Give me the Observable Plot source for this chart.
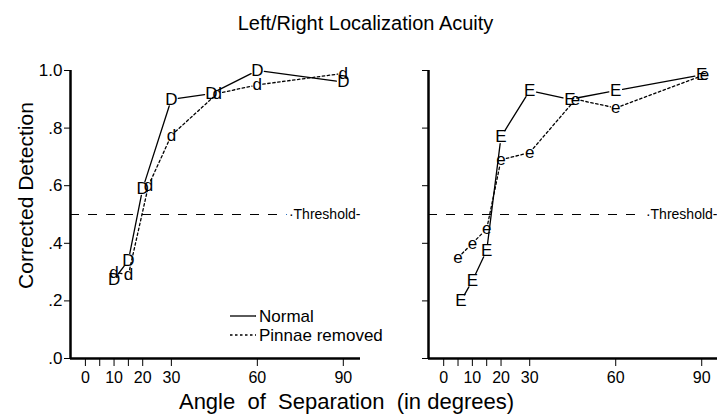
<!DOCTYPE html>
<html><head><meta charset="utf-8">
<script src="https://cdn.jsdelivr.net/npm/d3@7"></script>
<script src="https://cdn.jsdelivr.net/npm/@observablehq/plot@0.6"></script>
<style>
body{margin:0;background:#fff;}
#wrap{position:relative;width:717px;height:418px;font-family:"Liberation Sans",Arial,sans-serif;color:#000;overflow:hidden;background:#fff;}
#title{position:absolute;left:0;top:13px;width:731px;text-align:center;font-size:20px;line-height:20px;}
#left{position:absolute;left:0;top:50px;}
#right{position:absolute;left:360px;top:50px;}
#ylab{position:absolute;left:-100px;top:184.5px;width:250px;text-align:center;font-size:21px;line-height:21px;transform:rotate(-90deg);}
#xlab{position:absolute;left:96.5px;top:391px;width:500px;text-align:center;font-size:22px;line-height:22px;white-space:pre;}
#legend{position:absolute;left:0;top:0;pointer-events:none;}
</style></head><body>
<div id="wrap">
<div id="title">Left/Right Localization Acuity</div>
<div id="left"></div><div id="right"></div>
<div id="ylab">Corrected Detection</div>
<div id="xlab">Angle  of  Separation  (in degrees)</div>
<svg id="legend" width="717" height="418" font-family="Liberation Sans, Arial, sans-serif">
  <line x1="230" x2="256" y1="316" y2="316" stroke="#000" stroke-width="1.3"/>
  <text x="259" y="322" font-size="17">Normal</text>
  <line x1="230" x2="256" y1="335" y2="335" stroke="#000" stroke-width="1.3" stroke-dasharray="2.5,2.5"/>
  <text x="259" y="341" font-size="17">Pinnae removed</text>
</svg>
</div>
<script>
const yTicks = [0, 0.2, 0.4, 0.6, 0.8, 1.0];
const xTicks = [0, 5, 10, 15, 20, 30, 60, 90];
const xLabels = [0, 10, 20, 30, 60, 90];
const threshold = 0.5;

const leftNormalX  = [10, 15, 20, 30, 44, 60, 90];
const leftNormalY  = [0.275, 0.34, 0.59, 0.90, 0.92, 1.00, 0.96];
const leftPinnaeX  = [10, 15, 22, 30, 46, 60, 90];
const leftPinnaeY  = [0.30, 0.29, 0.60, 0.775, 0.92, 0.95, 0.99];

const rightNormalX = [6, 10, 15, 20, 30, 44, 60, 90];
const rightNormalY = [0.20, 0.27, 0.375, 0.77, 0.93, 0.90, 0.93, 0.985];
const rightPinnaeX = [5, 10, 15, 20, 30, 46, 60, 91];
const rightPinnaeY = [0.35, 0.40, 0.45, 0.69, 0.715, 0.90, 0.87, 0.985];

const zip = (xs, ys) => xs.map((x, i) => ({x, y: ys[i]}));
const segs = (pts) => pts.slice(1).map((d, i) => ({x1: pts[i].x, y1: pts[i].y, x2: d.x, y2: d.y}));
const font = "Liberation Sans, Arial, sans-serif";

function panel({w, ml, xd, normal, pinnae, N, P, showY}) {
  const connect = (pts, inset, dash) => Plot.arrow(segs(pts), {x1: "x1", y1: "y1", x2: "x2", y2: "y2",
    headLength: 0, insetStart: inset, insetEnd: inset, stroke: "#000", strokeWidth: 1.3,
    strokeDasharray: dash});
  const glyph = (data, letter) => Plot.text(data, {x: "x", y: "y", text: () => letter, fontSize: 17, fill: "#000"});
  return Plot.plot({
    width: w, height: 368, marginLeft: ml, marginRight: 0, marginTop: 20, marginBottom: 60,
    style: {fontFamily: font, background: "transparent", overflow: "visible", color: "#000"},
    x: {domain: xd},
    y: {domain: [0, 1]},
    marks: [
      Plot.ruleY([threshold], {stroke: "#000", strokeWidth: 1.2, strokeDasharray: "9,9"}),
      Plot.text([threshold], {y: d => d, frameAnchor: "right", text: () => "·Threshold-", textAnchor: "end",
        fontSize: 14, fill: "#000", stroke: "white", strokeWidth: 8, paintOrder: "stroke"}),
      Plot.ruleX([xd[0]], {stroke: "#000", strokeWidth: 2.5}),
      Plot.ruleY([0], {stroke: "#000", strokeWidth: 2.5}),
      Plot.axisY({ticks: yTicks, tickSize: 6, tickPadding: 2, fontSize: 17, label: null,
        tickFormat: showY ? (d => d === 1 ? "1.0" : "." + Math.round(d * 10)) : (() => "")}),
      Plot.axisX({ticks: xTicks, tickSize: 8, tickPadding: 5, fontSize: 16, label: null,
        tickFormat: d => xLabels.includes(d) ? String(d) : ""}),
      connect(normal, 7, null),
      connect(pinnae, 5.5, "2.5,2.5"),
      glyph(pinnae, P),
      glyph(normal, N)
    ]
  });
}

document.getElementById("left").append(panel({
  w: 360, ml: 70, xd: [-5.2, 96],
  normal: zip(leftNormalX, leftNormalY), pinnae: zip(leftPinnaeX, leftPinnaeY),
  N: "D", P: "d", showY: true
}));
document.getElementById("right").append(panel({
  w: 357, ml: 68, xd: [-5.3, 95.5],
  normal: zip(rightNormalX, rightNormalY), pinnae: zip(rightPinnaeX, rightPinnaeY),
  N: "E", P: "e", showY: false
}));
</script>
</body></html>
